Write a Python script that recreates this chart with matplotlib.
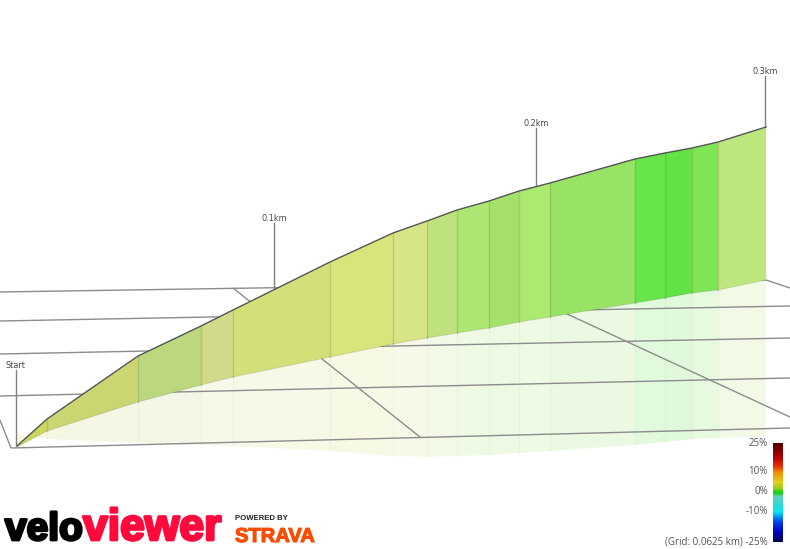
"""VeloViewer style 3D gradient profile, drawn in screen coordinates of the view."""

import matplotlib

matplotlib.use("Agg")
import matplotlib.patheffects as pe
import matplotlib.pyplot as plt
import numpy as np
from matplotlib.colors import LinearSegmentedColormap

# projected profile, one entry per segment boundary
wall_x = [17, 47, 138, 201, 233, 330, 393, 427, 457, 489, 519, 550, 635, 665, 692, 718, 766]
wall_top = [446, 419, 356, 326, 310, 262, 233, 221, 210, 201, 191, 183, 159, 153, 148, 142, 127]
wall_bottom = [447, 431, 402, 385, 377, 357, 344, 338, 333, 328, 322, 317, 303, 298, 293, 290, 280]
shadow_bottom = [435, 439, 443, 445, 446, 451, 456, 457, 456, 455, 453, 451, 445, 442, 439, 438, 436]
segment_colours = [
    "#ccd65c", "#cbd672", "#bbd87e", "#d0da88", "#d3e07a", "#d9e47a", "#d8e488", "#bee27e",
    "#ade672", "#a5e06c", "#ace970", "#97e365", "#68e548", "#62e244", "#7ee655", "#bde67e",
]

# grid lines: (x0, y0, x1, y1)
grid_lines = [
    (11, 448, 790, 428), (0, 396, 790, 378), (0, 354, 790, 338), (0, 321, 790, 306),
    (0, 292, 766, 280), (0, 420, 11, 448), (233, 288, 420, 437), (500, 283, 790, 417),
    (766, 280, 790, 288),
]

# distance markers
marker_names = ["Start", "0.1km", "0.2km", "0.3km"]
marker_x = [15.5, 274, 536, 765]
marker_top = [370, 223, 128, 76]
marker_bottom = [445, 288, 186, 127]

# colour scale
scale_grades = [25, 17, 13, 10, 5, 2, 0, -1, -2, -6, -10, -12, -15, -20, -25]
scale_colours = [
    "#500000", "#c00000", "#e83000", "#f09000", "#e0d020", "#a0c820", "#10d010", "#30c840",
    "#60d0c0", "#30d8d8", "#00e8f0", "#00a0f0", "#0040f0", "#0000c0", "#000050",
]
scale_labels = ["25%", "10%", "0%", "-10%", "(Grid: 0.0625 km) -25%"]
scale_label_grades = [25, 10, 0, -10, -25]


def grade_to_y(grade):
    # 0% sits at y=492, the two halves of the bar are not the same length
    return np.interp(grade, [-25, -10, 0, 10, 25], [542, 512, 492, 472, 443])


fig = plt.figure(figsize=(7.9, 5.49), dpi=100)
ax = fig.add_axes([0, 0, 1, 1])
ax.set_xlim(0, 790)
ax.set_ylim(549, 0)
ax.axis("off")

# faint reflection on the floor
for i, colour in enumerate(segment_colours):
    xs = [wall_x[i], wall_x[i + 1], wall_x[i + 1], wall_x[i]]
    ys = [wall_bottom[i], wall_bottom[i + 1], shadow_bottom[i + 1], shadow_bottom[i]]
    ax.fill(xs, ys, color=colour, alpha=0.19, linewidth=0, zorder=1)
    if i > 0:
        ax.plot([wall_x[i]] * 2, [wall_bottom[i], shadow_bottom[i]], color="#888888",
                alpha=0.06, linewidth=0.8, zorder=1.5)

for x0, y0, x1, y1 in grid_lines:
    ax.plot([x0, x1], [y0, y1], color="#8c8c8c", linewidth=1.0, zorder=2,
            solid_capstyle="butt")

# the wall itself
for i, colour in enumerate(segment_colours):
    xs = [wall_x[i], wall_x[i + 1], wall_x[i + 1], wall_x[i]]
    ys = [wall_top[i], wall_top[i + 1], wall_bottom[i + 1], wall_bottom[i]]
    ax.fill(xs, ys, color=colour, linewidth=0, zorder=3)
    ax.plot([wall_x[i], wall_x[i + 1]], [wall_bottom[i], wall_bottom[i + 1]], color="black",
            alpha=0.1, linewidth=0.8, zorder=3.2)
    if i < len(segment_colours) - 1:
        ax.plot([wall_x[i + 1]] * 2, [wall_top[i + 1], wall_bottom[i + 1]], color="#6b6b30",
                alpha=0.22, linewidth=1.0, zorder=3.2)
ax.plot(wall_x, wall_top, color="#555555", linewidth=1.0, zorder=4)

for name, x, top, bottom in zip(marker_names, marker_x, marker_top, marker_bottom):
    ax.plot([x, x], [top, bottom], color="#808080", linewidth=1.0, zorder=2.5)
    ax.text(x, top - 4.5, name, ha="center", va="center", fontsize=5.9, color="#444444",
            family="DejaVu Sans", zorder=5)

# colour bar
cmap = LinearSegmentedColormap.from_list(
    "grade", [((g + 25) / 50, c) for g, c in reversed(list(zip(scale_grades, scale_colours)))]
)
bar_grades = np.linspace(25, -25, 200)
bar_y = grade_to_y(bar_grades)
ax.pcolormesh([773, 783], bar_y, bar_grades[:-1].reshape(-1, 1), cmap=cmap, vmin=-25, vmax=25,
              shading="flat", zorder=5)
ax.set_xlim(0, 790)
ax.set_ylim(549, 0)
for label, grade in zip(scale_labels, scale_label_grades):
    ax.text(768, grade_to_y(grade), label, ha="right", va="center", fontsize=7.0,
            color="#555555", family="Open Sans", zorder=5)

# logos
heavy = [pe.withStroke(linewidth=2.0, foreground="black")]
ax.text(5, 540, "velo", fontsize=28, fontweight="bold", family="Liberation Sans", color="black",
        ha="left", va="baseline", path_effects=heavy)
heavy_red = [pe.withStroke(linewidth=2.0, foreground="#ff0a3c")]
ax.text(83, 540, "viewer", fontsize=32, fontweight="bold", family="Liberation Sans",
        color="#ff0a3c", ha="left", va="baseline", path_effects=heavy_red)
ax.text(235, 519, "POWERED BY", fontsize=5.6, fontweight="bold", family="Liberation Sans",
        color="#222222", ha="left", va="center")
heavy_orange = [pe.withStroke(linewidth=0.8, foreground="#fc4c02")]
ax.text(235, 542, "STRAVA", fontsize=14.5, fontweight="bold", family="Liberation Sans",
        color="#fc4c02", ha="left", va="baseline", path_effects=heavy_orange)

fig.savefig("out.png", dpi=100)
